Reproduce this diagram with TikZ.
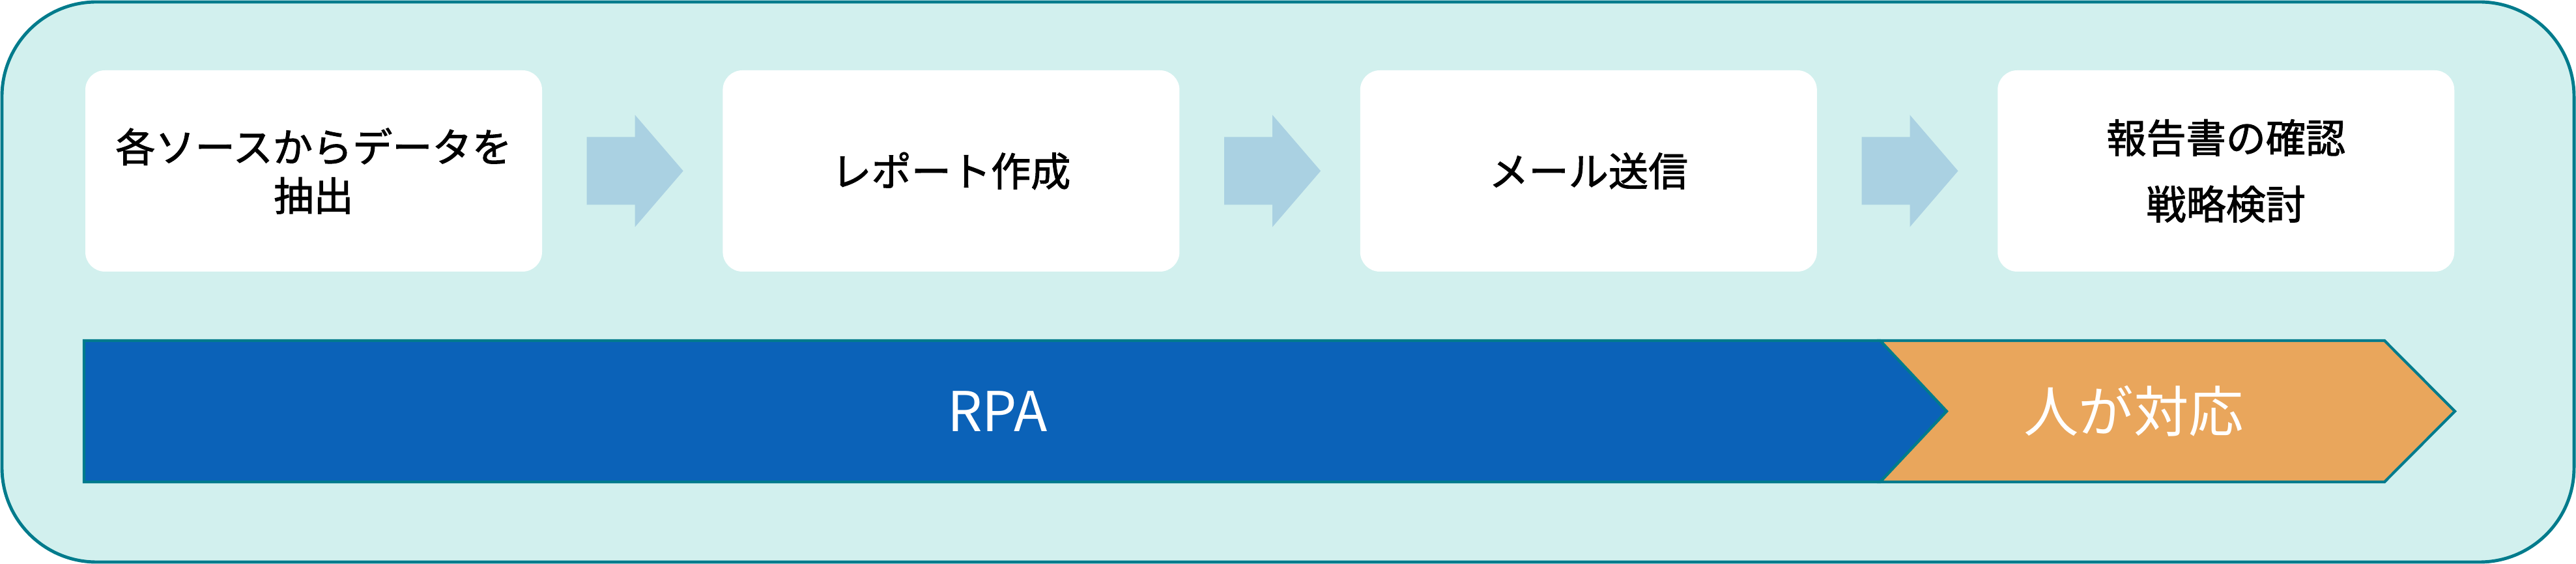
\documentclass[tikz,border=0pt]{standalone}
\usepackage{fontspec}
\setmainfont{Noto Sans CJK JP}
\newfontfamily\stepfont[FakeBold=1.6]{Noto Sans CJK JP}
\usepackage{tikz}
\usetikzlibrary{calc,positioning}
\definecolor{panelbg}{HTML}{D2F0EE}
\definecolor{panelline}{HTML}{007B8C}
\definecolor{arrowblue}{HTML}{AAD1E2}
\definecolor{rpablue}{HTML}{0B62B8}
\definecolor{humanorange}{HTML}{E9A65C}

\begin{document}
\begin{tikzpicture}[
	stepbox/.style={fill=white, rounded corners=0.3cm, inner sep=0pt,
		minimum width=7.01cm, minimum height=3.09cm, align=center,
		font=\stepfont\fontsize{17.4}{21.3}\selectfont},
	flowarrow/.style={fill=arrowblue},
	band/.style={draw=panelline, line width=1.2pt},
	bandtext/.style={text=white, font=\fontsize{24}{28}\selectfont}
]
\useasboundingbox (0,0) rectangle (39.54,8.66);
\draw[panelline, fill=panelbg, line width=1.4pt, rounded corners=1.45cm] (0.03,0.03) rectangle (39.51,8.63);

% steps
\node[stepbox] (s1) at (4.815,6.035) {各ソースからデータを\\抽出};
\node[stepbox, right=2.76cm of s1] (s2) {レポート作成};
\node[stepbox, right=2.76cm of s2] (s3) {メール送信};
\node[stepbox, right=2.76cm of s3] (s4) {報告書の確認\\[7.7pt]戦略検討};

\foreach \a/\b in {s1/s2,s2/s3,s3/s4}
	\fill[flowarrow] ($(\a.east)+(0.68,0.52)$) -- ++(0.74,0) -- ++(0,0.34)
		-- ($(\b.west)+(-0.6,0)$) -- ($(\a.east)+(1.42,-0.86)$) -- ++(0,0.34)
		-- ++(-0.74,0) -- cycle;

% RPA / human band
\coordinate (bl) at (1.29,1.26);
\coordinate (tl) at (1.29,3.43);
\draw[band, fill=rpablue] (bl) -- (tl) -- (28.86,3.43) -- (29.88,2.345) -- (28.86,1.26) -- cycle;
\draw[band, fill=humanorange] (28.86,3.43) -- (36.60,3.43) -- (37.68,2.345) -- (36.60,1.26)
	-- (28.86,1.26) -- (29.88,2.345) -- cycle;
\node[bandtext] (rpa) at (15.31,2.345) {RPA};
\node[bandtext] (human) at (32.75,2.345) {人が対応};
\end{tikzpicture}
\end{document}
